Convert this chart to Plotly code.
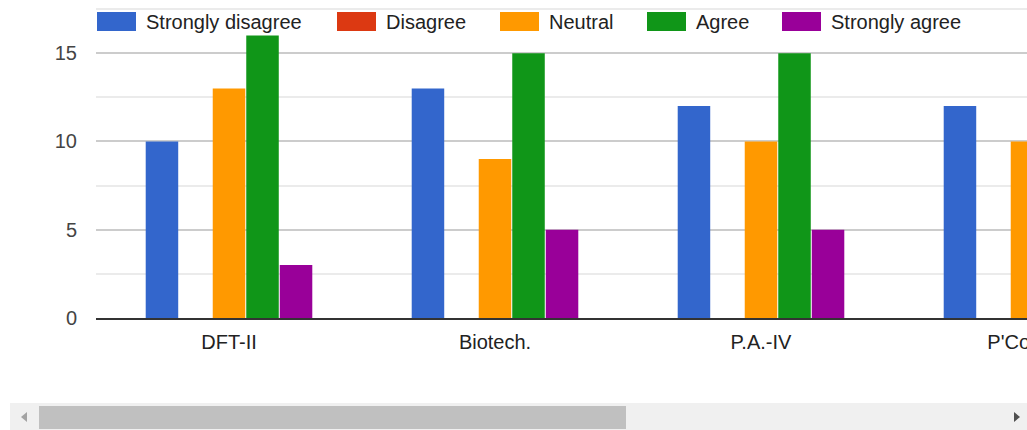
import plotly.graph_objects as go

# ---- data ----
categories = ["DFT-II", "Biotech.", "P.A.-IV", "P'Cology"]
series_names = ["Strongly disagree", "Disagree", "Neutral", "Agree", "Strongly agree"]
strongly_disagree = [10, 13, 12, 12]
disagree = [0, 0, 0, 0]
neutral = [13, 9, 10, 10]
agree = [16, 15, 15, 15]
strongly_agree = [3, 5, 5, 5]
colors = ["#3366cc", "#dc3912", "#ff9900", "#109618", "#990099"]
y_ticks = [0, 5, 10, 15]

values = [strongly_disagree, disagree, neutral, agree, strongly_agree]

W, H = 1027, 430
ML, MR, MT, MB = 96, 0, 9, 112
PW = W - ML - MR
PH = H - MT - MB

def px(x):
    return (x - ML) / PW

def py(y):
    return (H - MB - y) / PH

FONT = "Arial, 'Liberation Sans', sans-serif"

fig = go.Figure()
for name, vals, col in zip(series_names, values, colors):
    fig.add_trace(go.Bar(x=categories, y=vals, name=name,
                         marker=dict(color=col, line=dict(width=0)),
                         showlegend=False))

shapes = []
annotations = []

# top gridline (plotly drops grid lines at the very edge of the range)
shapes.append(dict(type="line", xref="paper", yref="paper", x0=0, x1=1, y0=1, y1=1,
                   line=dict(color="#ebebeb", width=2), layer="below"))

# custom legend (wide swatches like the original)
legend_x = [97, 337, 500, 647, 782]
for name, col, lx in zip(series_names, colors, legend_x):
    shapes.append(dict(type="rect", xref="paper", yref="paper",
                       x0=px(lx), x1=px(lx + 39), y0=py(31), y1=py(12),
                       fillcolor=col, line=dict(width=0), layer="above"))
    annotations.append(dict(xref="paper", yref="paper", x=px(lx + 47), y=py(21.5),
                            xanchor="left", yanchor="middle", text=name,
                            showarrow=False, font=dict(family=FONT, size=20, color="#222222")))

# scrollbar decoration
shapes.append(dict(type="rect", xref="paper", yref="paper",
                   x0=px(10), x1=px(1027), y0=py(430), y1=py(403),
                   fillcolor="#f0f0f0", line=dict(width=0)))
shapes.append(dict(type="rect", xref="paper", yref="paper",
                   x0=px(39), x1=px(626), y0=py(429), y1=py(406),
                   fillcolor="#c0c0c0", line=dict(width=0)))
shapes.append(dict(type="path", xref="paper", yref="paper",
                   path=f"M {px(21)} {py(417)} L {px(27)} {py(412)} L {px(27)} {py(422)} Z",
                   fillcolor="#a3a3a3", line=dict(width=0)))
shapes.append(dict(type="path", xref="paper", yref="paper",
                   path=f"M {px(1020)} {py(417)} L {px(1014)} {py(412)} L {px(1014)} {py(422)} Z",
                   fillcolor="#505050", line=dict(width=0)))

fig.update_layout(
    width=W, height=H, autosize=False,
    margin=dict(l=ML, r=MR, t=MT, b=MB, pad=0, autoexpand=False),
    paper_bgcolor="white", plot_bgcolor="white",
    barmode="group", bargap=0.37, bargroupgap=0.03,
    font=dict(family=FONT, size=20, color="#444444"),
    shapes=shapes, annotations=annotations,
    showlegend=False,
)
fig.update_xaxes(range=[-0.5, 3.0], showgrid=False, showline=True, linecolor="#333333",
                 linewidth=2, ticks="", ticklabelstandoff=5, automargin=False,
                 tickfont=dict(family=FONT, size=20, color="#222222"), fixedrange=True)
fig.update_yaxes(range=[0, 17.5], tickvals=y_ticks, showgrid=True, gridcolor="#cccccc",
                 gridwidth=2, zeroline=False, showline=False, ticks="",
                 ticklabelstandoff=18, automargin=False,
                 tickfont=dict(family=FONT, size=20, color="#444444"),
                 minor=dict(dtick=2.5, showgrid=True, gridcolor="#ebebeb", gridwidth=2),
                 fixedrange=True)

fig.write_html("out.html", config={"displayModeBar": False},
               post_script="document.body.style.margin='0';document.body.style.overflow='hidden';")
